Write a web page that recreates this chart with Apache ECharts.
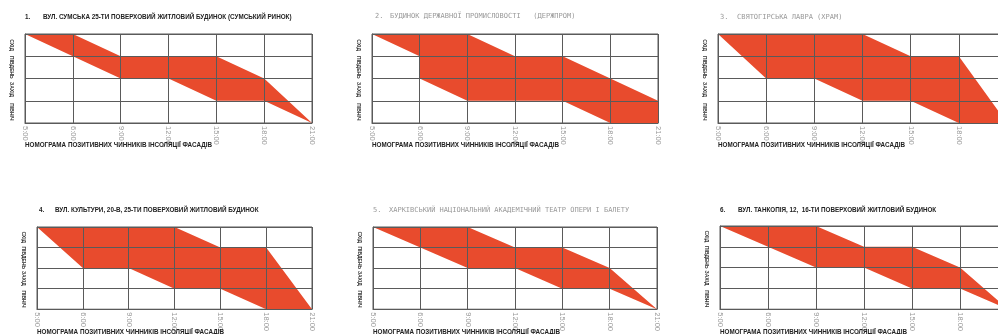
<!DOCTYPE html>
<html>
<head>
<meta charset="utf-8">
<script src="https://cdn.jsdelivr.net/npm/echarts@6/dist/echarts.min.js"></script>
<style>
  html, body { margin: 0; padding: 0; background: #fff; overflow: hidden; }
  #chart { width: 1030px; height: 334px; }
</style>
</head>
<body>
<div id="chart"></div>
<script>
// Time ticks along the horizontal axis (equally spaced columns)
const hours = ['5:00', '6:00', '9:00', '12:00', '15:00', '18:00', '21:00'];
// Facade rows, bottom to top
const facades = ['ПІВНІЧ', 'ЗАХІД', 'ПІВДЕНЬ', 'СХІД'];

const numbers = ['1.', '2.', '3.', '4.', '5.', '6.'];
const titles = [
  'ВУЛ. СУМСЬКА 25-ТИ ПОВЕРХОВИЙ ЖИТЛОВИЙ БУДИНОК (СУМСЬКИЙ РИНОК)',
  'БУДИНОК ДЕРЖАВНОЇ ПРОМИСЛОВОСТІ   (ДЕРЖПРОМ)',
  'СВЯТОГІРСЬКА ЛАВРА (ХРАМ)',
  'ВУЛ. КУЛЬТУРИ, 20-В, 25-ТИ ПОВЕРХОВИЙ ЖИТЛОВИЙ БУДИНОК',
  'ХАРКІВСЬКИЙ НАЦІОНАЛЬНИЙ АКАДЕМІЧНИЙ ТЕАТР ОПЕРИ І БАЛЕТУ',
  'ВУЛ. ТАНКОПІЯ, 12,  16-ТИ ПОВЕРХОВИЙ ЖИТЛОВИЙ БУДИНОК'
];
const caption = 'НОМОГРАМА ПОЗИТИВНИХ ЧИННИКІВ ІНСОЛЯЦІЇ ФАСАДІВ';

// Insolation band per building: [time index, facade level] along upper and lower edges
const upper1 = [[0, 4], [1, 4], [2, 3], [4, 3], [5, 2], [6, 0]];
const lower1 = [[0, 4], [1, 3], [2, 2], [3, 2], [4, 1], [5, 1], [6, 0]];

const upper2 = [[0, 4], [2, 4], [3, 3], [4, 3], [5, 2], [6, 1]];
const lower2 = [[0, 4], [1, 3], [1, 2], [2, 1], [4, 1], [5, 0], [6, 0]];

const upper3 = [[0, 4], [3, 4], [4, 3], [5, 3], [6, 0]];
const lower3 = [[0, 4], [1, 2], [2, 2], [3, 1], [4, 1], [5, 0], [6, 0]];

const upper4 = [[0, 4], [3, 4], [4, 3], [5, 3], [6, 0]];
const lower4 = [[0, 4], [1, 2], [2, 2], [3, 1], [4, 1], [5, 0], [6, 0]];

const upper5 = [[0, 4], [2, 4], [3, 3], [4, 3], [5, 2], [6, 0]];
const lower5 = [[0, 4], [1, 3], [2, 2], [3, 2], [4, 1], [5, 1], [6, 0]];

const upper6 = [[0, 4], [2, 4], [3, 3], [4, 3], [5, 2], [6, 0]];
const lower6 = [[0, 4], [1, 3], [2, 2], [3, 2], [4, 1], [5, 1], [6, 0]];

const bands = [
  [upper1, lower1], [upper2, lower2], [upper3, lower3],
  [upper4, lower4], [upper5, lower5], [upper6, lower6]
];

// Panel placement
const panels = [
  { left: 25,  top: 34,  width: 287, height: 89, numX: 25,  textX: 43,  titleY: 14,  capY: 142, thin: false },
  { left: 372, top: 34,  width: 286, height: 89, numX: 375, textX: 390, titleY: 13,  capY: 142, thin: true },
  { left: 718, top: 34,  width: 289, height: 89, numX: 720, textX: 737, titleY: 14,  capY: 142, thin: true },
  { left: 37,  top: 227, width: 275, height: 87, numX: 39,  textX: 55,  titleY: 207, capY: 329, thin: false },
  { left: 373, top: 227, width: 284, height: 87, numX: 373, textX: 389, titleY: 207, capY: 329, thin: true },
  { left: 720, top: 226, width: 288, height: 90, numX: 720, textX: 738, titleY: 207, capY: 329, thin: false }
];

const RED = '#E84B2D';
const LINE = '#5a5a5a';
const boldFont = { fontFamily: 'Liberation Sans', fontWeight: 'bold', fontSize: 6.3, color: '#222' };
const thinFont = { fontFamily: 'DejaVu Sans Mono', fontWeight: 'normal', fontSize: 7, color: '#999' };

const title = [];
const grid = [];
const xAxis = [];
const yAxis = [];
const series = [];

panels.forEach((p, i) => {
  const font = p.thin ? thinFont : boldFont;
  title.push({ text: numbers[i], left: p.numX, top: p.titleY, padding: 0, textStyle: font });
  title.push({ text: titles[i], left: p.textX, top: p.titleY, padding: 0, textStyle: font });
  title.push({ text: caption, left: p.left, top: p.capY, padding: 0, textStyle: boldFont });

  grid.push({ left: p.left, top: p.top, width: p.width, height: p.height,
              show: true, borderColor: LINE, borderWidth: 1, containLabel: false });

  xAxis.push({
    type: 'value', gridIndex: i, min: 0, max: 6, interval: 1, z: 5,
    axisLine: { show: true, lineStyle: { color: LINE, width: 1 } },
    axisTick: { show: false },
    splitLine: { show: true, lineStyle: { color: LINE, width: 1 } },
    axisLabel: {
      rotate: -90, margin: 3, fontSize: 7.5, color: '#999',
      fontFamily: 'Liberation Sans',
      formatter: v => hours[v]
    }
  });

  yAxis.push({
    type: 'value', gridIndex: i, min: 0, max: 4, interval: 1, z: 5,
    axisLine: { show: true, lineStyle: { color: LINE, width: 1 } },
    axisTick: { show: false },
    axisLabel: { show: false },
    splitLine: { show: true, lineStyle: { color: LINE, width: 1 } }
  });
  yAxis.push({
    type: 'category', gridIndex: i, data: facades, position: 'left',
    axisLine: { show: false }, axisTick: { show: false }, splitLine: { show: false },
    axisLabel: {
      interval: 0, hideOverlap: false,
      rotate: -90, margin: 11, fontSize: 5, color: '#333',
      fontFamily: 'Liberation Sans', fontWeight: 'bold'
    }
  });

  const [up, low] = bands[i];
  series.push({
    type: 'custom',
    xAxisIndex: i,
    yAxisIndex: 2 * i,
    clip: true,
    silent: true,
    data: [[0, 0]],
    renderItem: (params, api) => {
      const pts = up.map(pt => api.coord(pt))
        .concat(low.slice().reverse().map(pt => api.coord(pt)));
      return { type: 'polygon', shape: { points: pts }, style: { fill: RED } };
    }
  });
});

const chart = echarts.init(document.getElementById('chart'), null, { renderer: 'canvas' });
chart.setOption({
  animation: false,
  backgroundColor: '#fff',
  title, grid, xAxis, yAxis, series
});
</script>
</body>
</html>
